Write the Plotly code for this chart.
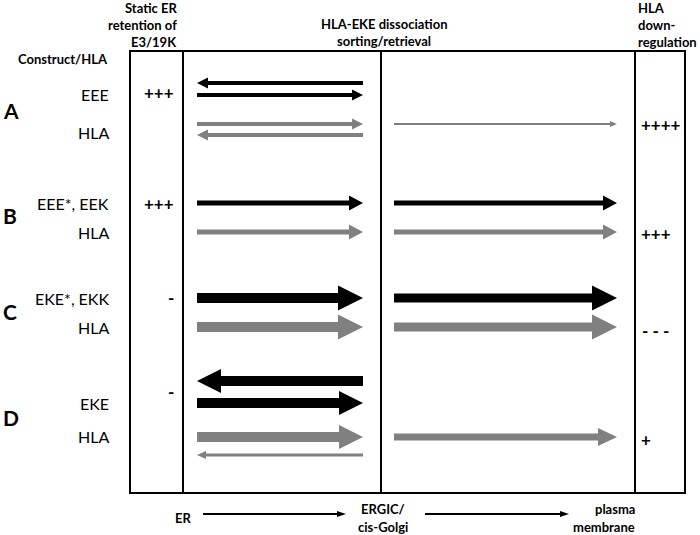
import plotly.graph_objects as go

# rows and labels
groups = ["A", "B", "C", "D"]
group_y = [110, 215, 311, 417]

construct_labels = ["EEE", "HLA", "EEE*, EEK", "HLA", "EKE*, EKK", "HLA", "EKE", "HLA"]
construct_y = [94, 132, 203, 232, 298, 327, 403, 436]

retention = ["+++", "+++", "-", "-"]
retention_y = [92, 203, 297, 391]

downregulation = ["++++", "+++", "- - -", "+"]
downreg_x = [661, 656, 655, 646]
downreg_y = [124, 233, 330, 439]

# arrows: x start (tail), x end (head), y, colour, shaft width, head length, head height
arrow_x0 = [363, 197, 197, 363, 394,
            197, 197, 394, 394,
            197, 197, 394, 394,
            363, 197, 197, 363, 394]
arrow_x1 = [197, 363, 363, 197, 617,
            363, 363, 617, 617,
            363, 363, 617, 617,
            197, 363, 363, 197, 617]
arrow_y = [83, 95, 124, 135, 124,
           203, 232, 203, 232,
           298, 327, 298, 327,
           381, 403, 437, 455, 437]
arrow_col = ["k", "k", "g", "g", "g",
             "k", "g", "k", "g",
             "k", "g", "k", "g",
             "k", "k", "g", "g", "g"]
arrow_w = [4, 4, 4, 4, 2,
           5, 5, 5, 5,
           10, 10, 9, 9,
           10, 10, 10, 3, 7]
arrow_hl = [11, 11, 11, 11, 7,
            14, 14, 14, 14,
            25, 25, 25, 25,
            24, 24, 24, 9, 19]
arrow_hh = [11, 11, 11, 11, 6,
            15, 15, 15, 15,
            25, 25, 25, 25,
            24, 24, 24, 8, 18]

colours = {"k": "#000000", "g": "#808080"}


def arrow_poly(x0, x1, y, w, hl, hh):
    d = 1 if x1 > x0 else -1
    xb = x1 - d * hl
    xs = [x0, xb, xb, x1, xb, xb, x0, x0]
    ys = [y - w / 2, y - w / 2, y - hh / 2, y, y + hh / 2, y + w / 2, y + w / 2, y - w / 2]
    return xs, ys


fig = go.Figure()

for x0, x1, y, c, w, hl, hh in zip(arrow_x0, arrow_x1, arrow_y, arrow_col,
                                   arrow_w, arrow_hl, arrow_hh):
    xs, ys = arrow_poly(x0, x1, y, w, hl, hh)
    fig.add_trace(go.Scatter(x=xs, y=ys, mode="lines", fill="toself",
                             fillcolor=colours[c], line=dict(width=0),
                             hoverinfo="skip", showlegend=False))

# bottom compartment arrows
for x0, x1 in [(203, 346), (425, 569)]:
    xs, ys = arrow_poly(x0, x1, 514, 2, 9, 6)
    fig.add_trace(go.Scatter(x=xs, y=ys, mode="lines", fill="toself",
                             fillcolor="black", line=dict(width=0),
                             hoverinfo="skip", showlegend=False))

# frame
line = dict(color="black", width=2)
fig.add_shape(type="rect", x0=130, y0=51, x1=685, y1=493, line=line)
for xv in [183, 381, 635]:
    fig.add_shape(type="line", x0=xv, y0=51, x1=xv, y1=493, line=line)

FONT = "Lato"


def txt(x, y, s, size, bold=False, anchor="center"):
    if bold:
        s = "<b>" + s + "</b>"
    fig.add_annotation(x=x, y=y, text=s, showarrow=False, xanchor=anchor,
                       yanchor="middle", font=dict(family=FONT, size=size, color="black"))


# headers
for s, y in zip(["Static ER", "retention of", "E3/19K"], [8, 25, 42]):
    txt(179, y, s, 13, True, "right")
txt(384, 24, "HLA-EKE dissociation", 13, True)
txt(384, 41, "sorting/retrieval", 13, True)
for s, y in zip(["HLA", "down-", "regulation"], [8, 25, 42]):
    txt(636, y, s, 13, True, "left")
txt(16, 59, "Construct/HLA", 13, True, "left")

for g, y in zip(groups, group_y):
    txt(1, y, g, 21, True, "left")
for s, y in zip(construct_labels, construct_y):
    txt(111, y, s, 16, False, "right")
for s, y in zip(retention, retention_y):
    txt(159 if s != "-" else 171, y, s, 17, True)
for s, x, y in zip(downregulation, downreg_x, downreg_y):
    txt(x, y, s, 17, True)

# compartments
txt(183, 518, "ER", 13, True)
txt(383, 509, "ERGIC/", 13, True)
txt(383, 527, "cis-Golgi", 13, True)
txt(637, 509, "plasma", 13, True, "right")
txt(637, 527, "membrane", 13, True, "right")

fig.update_xaxes(range=[0, 700], visible=False, fixedrange=True)
fig.update_yaxes(range=[535, 0], visible=False, fixedrange=True)
fig.update_layout(width=700, height=535, margin=dict(l=0, r=0, t=0, b=0),
                  plot_bgcolor="white", paper_bgcolor="white", showlegend=False,
                  hovermode=False)

# drop the default page margin so the figure fills the window exactly
fig.write_html("out.html", config={"displayModeBar": False},
               post_script="document.body.style.margin='0';")
